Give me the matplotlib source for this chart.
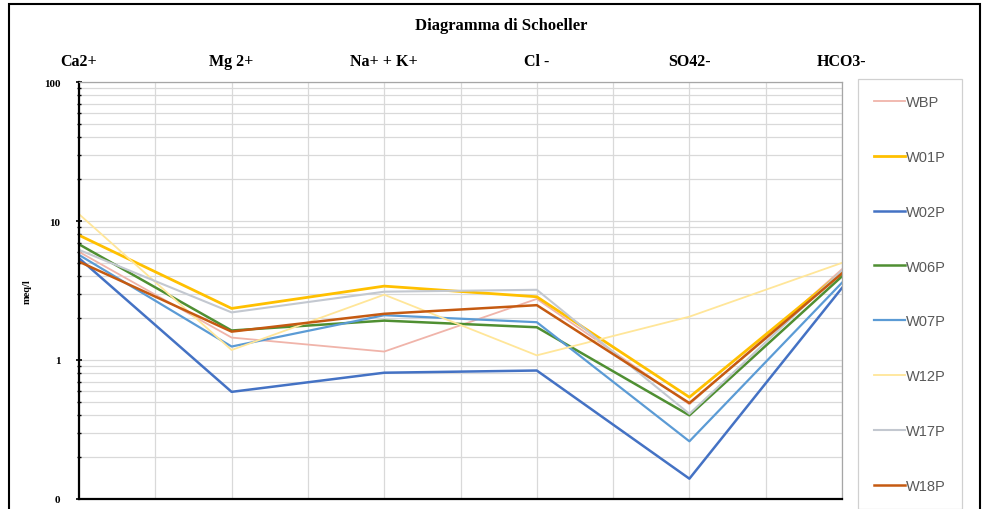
import numpy as np
import matplotlib
matplotlib.use('Agg')
import matplotlib.pyplot as plt
from matplotlib.patches import Rectangle
from matplotlib.ticker import FixedLocator, LogLocator, NullFormatter

# Schoeller diagram - values in meq/l
categories = ['Ca2+', 'Mg 2+', 'Na+ + K+', 'Cl -', 'SO42-', 'HCO3-']

wbp  = [6.0, 1.45, 1.15, 2.75, 0.48, 4.5]
w01p = [7.9, 2.35, 3.4, 2.85, 0.54, 4.3]
w02p = [5.4, 0.59, 0.81, 0.84, 0.14, 3.3]
w06p = [6.8, 1.63, 1.92, 1.72, 0.40, 4.0]
w07p = [5.7, 1.25, 2.1, 1.87, 0.26, 3.6]
w12p = [11.2, 1.18, 2.95, 1.08, 2.05, 5.0]
w17p = [6.2, 2.2, 3.1, 3.2, 0.41, 4.4]
w18p = [5.1, 1.6, 2.15, 2.48, 0.49, 4.2]

names = ['WBP', 'W01P', 'W02P', 'W06P', 'W07P', 'W12P', 'W17P', 'W18P']
series = [wbp, w01p, w02p, w06p, w07p, w12p, w17p, w18p]
colors = ['#F0B4AA', '#FFC000', '#4472C4', '#4F8F32', '#5B9BD5', '#FFE699', '#C3C8D0', '#C55A11']
widths = [1.3, 2.0, 1.8, 1.8, 1.6, 1.3, 1.5, 1.8]

serif = ['Liberation Serif', 'DejaVu Serif']

fig = plt.figure(figsize=(9.86, 5.10), dpi=100)
ax = fig.add_axes([79/986, 10/510, (842-79)/986, (500-83)/510])

x = np.arange(len(categories)) * 2
for name, vals, c, lw in zip(names, series, colors, widths):
    ax.plot(x, vals, color=c, lw=lw, label=name)

ax.set_yscale('log')
ax.set_ylim(0.1, 100)
ax.set_xlim(0, 10)

# gridlines
ax.set_xticks(np.arange(11))
ax.set_xticklabels([])
ax.tick_params(axis='x', length=0)
ax.yaxis.set_major_locator(FixedLocator([0.1, 1, 10, 100]))
ax.yaxis.set_minor_locator(LogLocator(base=10, subs=np.arange(2, 10)))
ax.yaxis.set_minor_formatter(NullFormatter())
ax.set_yticklabels(['0', '1', '10', '100'], fontfamily=serif, fontweight='bold', fontsize=8)
ax.tick_params(axis='y', which='major', length=5, width=1.2, direction='inout', pad=11)
ax.tick_params(axis='y', which='minor', length=3, width=1.0, direction='inout')
ax.grid(True, which='both', axis='y', color='#D9D9D9', lw=0.9)
ax.grid(True, which='major', axis='x', color='#D9D9D9', lw=0.9)
ax.set_axisbelow(True)

ax.spines['left'].set_linewidth(1.6)
ax.spines['bottom'].set_linewidth(1.6)
ax.spines['top'].set_color('#A6A6A6')
ax.spines['right'].set_color('#A6A6A6')
ax.spines['top'].set_linewidth(0.9)
ax.spines['right'].set_linewidth(0.9)

ax.set_ylabel('meq/l', fontfamily=serif, fontweight='bold', fontsize=7.5, labelpad=9)

# category names on top
for xi, cat in zip(x, categories):
    ax.text(xi, 1.05, cat, transform=ax.get_xaxis_transform(), ha='center', va='center',
            fontfamily=serif, fontweight='bold', fontsize=11.5)

fig.text(501/986, 1 - 26/510, 'Diagramma di Schoeller', ha='center', va='center',
         fontfamily=serif, fontweight='bold', fontsize=12)

leg = fig.legend(loc='upper left', bbox_to_anchor=(858/986, 1 - 80/510), borderaxespad=0,
                 prop={'family': 'Liberation Sans', 'size': 10.5}, labelspacing=2.8,
                 handlelength=2.1, handletextpad=0.1, borderpad=1.1,
                 fancybox=False, edgecolor='#D0D0D0', framealpha=1)
for t in leg.get_texts():
    t.set_color('#595959')
leg.get_frame().set_linewidth(0.9)

# outer border of the figure
fig.patches.append(Rectangle((9/986, -0.02), (980-9)/986, 1 - 5/510 + 0.02,
                             transform=fig.transFigure, fill=False, edgecolor='black', lw=1.5))

fig.savefig('out.png', dpi=100)
